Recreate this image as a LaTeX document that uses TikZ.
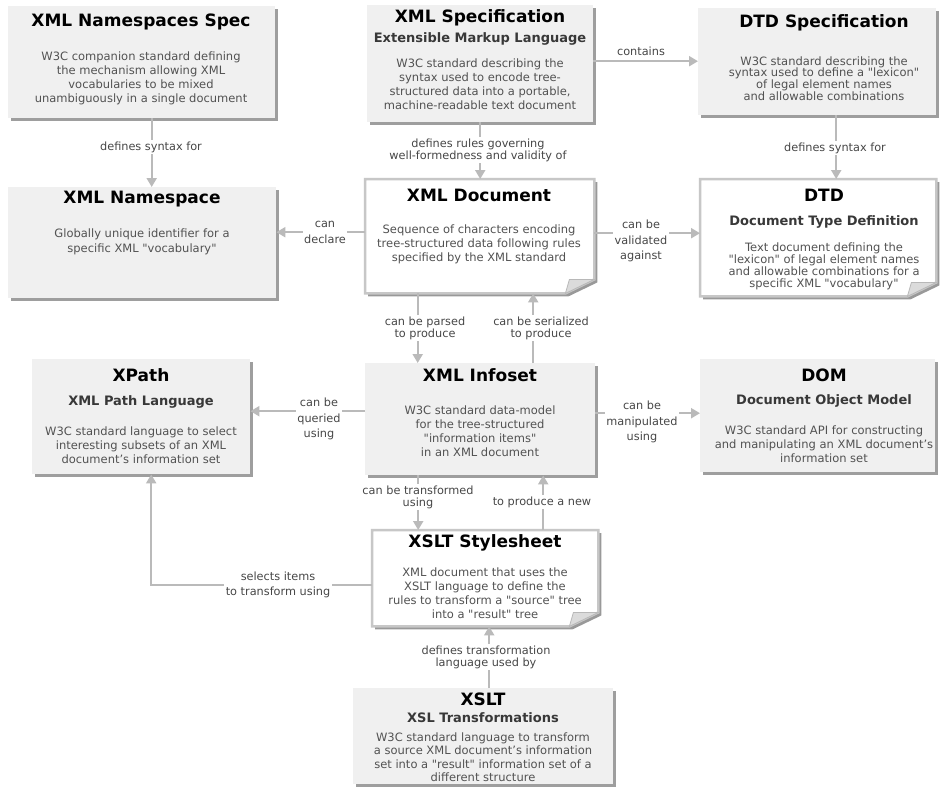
\documentclass[tikz,border=0pt]{standalone}
\usepackage{fontspec}
\setmainfont{DejaVu Sans}
\usetikzlibrary{arrows.meta, positioning, shadows, calc}
\newcommand{\qq}[1]{\textquotedbl#1\textquotedbl}

\begin{document}
\begin{tikzpicture}[x=1pt, y=-1pt,
  specbox/.style={rectangle, anchor=north west, inner sep=0pt, fill=black!6,
    drop shadow={shadow xshift=2.5pt, shadow yshift=-2.5pt, fill=black!38, opacity=1}},
  docbox/.style={rectangle, anchor=north west, inner sep=0pt},
  docpage/.style={draw=black!22, line width=2.5pt, fill=white, line join=miter},
  docshadow/.style={fill=black!40},
  fold/.style={fill=black!14, draw=black!28, line width=0.8pt},
  ttl/.style={font=\fontsize{17}{20}\selectfont\bfseries, text=black},
  subttl/.style={font=\fontsize{13}{15}\selectfont\bfseries, text=black!78},
  desc/.style={align=center, font=\fontsize{11.5}{14}\selectfont, text=black!68},
  tightdesc/.style={desc, font=\fontsize{11.5}{11.8}\selectfont},
  lbl/.style={align=center, font=\fontsize{11.3}{11.8}\selectfont, text=black!72,
    fill=white, inner sep=1.5pt},
  widelbl/.style={lbl, font=\fontsize{11.3}{15.5}\selectfont},
  arr/.style={-{Triangle[length=9pt, width=10pt]}, line width=2pt, black!27},
]
\path[use as bounding box, fill=white] (0,0) rectangle (941,787);
%
% ====== BOXES ======
\node[specbox, minimum width=267pt, minimum height=112pt] (nsspec) at (8,6) {};
\node[specbox, minimum width=226pt, minimum height=117pt] (xmlspec) at (367,5) {};
\node[specbox, minimum width=238pt, minimum height=107pt] (dtdspec) at (698,8) {};
\node[specbox, minimum width=268pt, minimum height=111pt] (ns) at (8,187) {};
\node[docbox, minimum width=229pt, minimum height=114pt] (xmldoc) at (365,179) {};
\node[docbox, minimum width=236pt, minimum height=117pt] (dtd) at (700,179) {};
\node[specbox, minimum width=218pt, minimum height=115pt] (xpath) at (32,359) {};
\node[specbox, minimum width=230pt, minimum height=112pt] (infoset) at (365,363) {};
\node[specbox, minimum width=235pt, minimum height=113pt] (dom) at (700,359) {};
\node[docbox, minimum width=226pt, minimum height=96pt] (xslss) at (372,530) {};
\node[specbox, minimum width=260pt, minimum height=96pt] (xslt) at (353,688) {};
%
% ====== DOCUMENT PAGES (folded corner) ======
\foreach \d in {xmldoc, dtd, xslss} {
  \fill[docshadow] ([xshift=3pt, yshift=-3pt]\d.north west)
    -- ([xshift=3pt, yshift=-3pt]\d.north east)
    -- ([xshift=3pt, yshift=11pt]\d.south east)
    -- ([xshift=-26pt, yshift=-3pt]\d.south east)
    -- ([xshift=3pt, yshift=-3pt]\d.south west) -- cycle;
  \draw[docpage] (\d.north west) -- (\d.north east)
    -- ([yshift=14pt]\d.south east) -- ([xshift=-29pt]\d.south east)
    -- (\d.south west) -- cycle;
  \filldraw[fold] ([xshift=-29pt]\d.south east) -- ([yshift=14pt]\d.south east)
    -- ([xshift=-25pt, yshift=14pt]\d.south east) -- cycle;
}
%
% ====== TEXTS ======
\node[ttl] (nsspec_t) at (141,22) {XML Namespaces Spec};
\node[desc] (nsspec_d) at (141,78) {W3C companion standard defining\\the mechanism allowing XML\\vocabularies to be mixed\\unambiguously in a single document};
\node[ttl] (xmlspec_t) at (480,18) {XML Specification};
\node[subttl] (xmlspec_s) at (480,39) {Extensible Markup Language};
\node[desc] (xmlspec_d) at (480,84.5) {W3C standard describing the\\syntax used to encode tree-\\structured data into a portable,\\machine-readable text document};
\node[ttl] (dtdspec_t) at (824,23) {DTD Specification};
\node[tightdesc] (dtdspec_d) at (824,78.5) {W3C standard describing the\\syntax used to define a \qq{lexicon}\\of legal element names\\and allowable combinations};
\node[ttl] (ns_t) at (142,199) {XML Namespace};
\node[desc] (ns_d) at (142,241.5) {Globally unique identifier for a\\[1pt]specific XML \qq{vocabulary}};
\node[ttl] (xmldoc_t) at (479,195) {XML Document};
\node[desc] (xmldoc_d) at (479,244) {Sequence of characters encoding\\tree-structured data following rules\\specified by the XML standard};
\node[ttl] (dtd_t) at (824,195) {DTD};
\node[subttl] (dtd_s) at (824,222) {Document Type Definition};
\node[tightdesc] (dtd_d) at (824,266.5) {Text document defining the\\\qq{lexicon} of legal element names\\and allowable combinations for a\\specific XML \qq{vocabulary}};
\node[ttl] (xpath_t) at (141,375) {XPath};
\node[subttl] (xpath_s) at (141,402) {XML Path Language};
\node[desc] (xpath_d) at (141,445.5) {W3C standard language to select\\interesting subsets of an XML\\document's information set};
\node[ttl] (infoset_t) at (480,375) {XML Infoset};
\node[desc] (infoset_d) at (480,431) {W3C standard data-model\\for the tree-structured\\\qq{information items}\\in an XML document};
\node[ttl] (dom_t) at (824,375) {DOM};
\node[subttl] (dom_s) at (824,401) {Document Object Model};
\node[desc] (dom_d) at (824,444.5) {W3C standard API for constructing\\and manipulating an XML document's\\information set};
\node[ttl] (xslss_t) at (485,543) {XSLT Stylesheet};
\node[desc] (xslss_d) at (485,593) {XML document that uses the\\XSLT language to define the\\rules to transform a \qq{source} tree\\into a \qq{result} tree};
\node[ttl] (xslt_t) at (483,699) {XSLT};
\node[subttl] (xslt_s) at (483,718) {XSL Transformations};
\node[desc, font=\fontsize{11.5}{13.5}\selectfont] (xslt_d) at (483,757) {W3C standard language to transform\\a source XML document's information\\set into a \qq{result} information set of a\\different structure};
%
% ====== CONNECTORS ======
\draw[arr] ([xshift=10pt]nsspec.south) -- ([xshift=10pt]nsspec.south |- ns.north);
\draw[arr] (xmlspec.south) -- (xmlspec.south |- xmldoc.north);
\draw[arr] ([yshift=2.5pt]xmlspec.east) -- ([yshift=2.5pt]xmlspec.east -| dtdspec.west);
\draw[arr] ([xshift=19pt]dtdspec.south) -- ([xshift=19pt]dtdspec.south |- dtd.north);
\draw[arr] ([yshift=4pt]xmldoc.west) -- ([yshift=4pt]xmldoc.west -| ns.east);
\draw[arr] ([yshift=3pt]xmldoc.east) -- ([yshift=3pt]xmldoc.east -| dtd.west);
\draw[arr] ([xshift=-62pt]xmldoc.south) -- ([xshift=-62pt]xmldoc.south |- infoset.north);
\draw[arr] ([xshift=53pt]infoset.north) -- ([xshift=53pt]infoset.north |- xmldoc.south);
\draw[arr] ([yshift=8pt]infoset.west) -- ([yshift=8pt]infoset.west -| xpath.east);
\draw[arr] ([yshift=6pt]infoset.east) -- ([yshift=6pt]infoset.east -| dom.west);
\draw[arr] ([xshift=-62pt]infoset.south) -- ([xshift=-62pt]infoset.south |- xslss.north);
\draw[arr] ([xshift=58pt]xslss.north) -- ([xshift=58pt]xslss.north |- infoset.south);
\draw[arr] ([yshift=-7pt]xslss.west) -| ([xshift=10pt]xpath.south);
\draw[arr] ([xshift=6pt]xslt.north) -- ([xshift=6pt]xslt.north |- xslss.south);
%
% ====== CONNECTOR LABELS ======
\node[lbl] (l_nsdef) at (151,147) {defines syntax for};
\node[lbl] (l_rules) at (478,150) {defines rules governing\\well-formedness and validity of};
\node[lbl, fill=none] (l_contains) at (641,51) {contains};
\node[lbl] (l_dtddef) at (835,148) {defines syntax for};
\node[widelbl] (l_declare) at (325,232.5) {can\\declare};
\node[widelbl] (l_valid) at (641,241) {can be\\validated\\against};
\node[lbl] (l_parse) at (425,328) {can be parsed\\to produce};
\node[lbl] (l_serial) at (541,328) {can be serialized\\to produce};
\node[widelbl] (l_query) at (319,419) {can be\\queried\\using};
\node[widelbl] (l_manip) at (642,422) {can be\\manipulated\\using};
\node[lbl] (l_transf) at (418,497) {can be transformed\\using};
\node[lbl] (l_newset) at (542,502) {to produce a new};
\node[widelbl] (l_select) at (278,585) {selects items\\to transform using};
\node[lbl] (l_xsltdef) at (486,657) {defines transformation\\language used by};
\end{tikzpicture}
\end{document}
